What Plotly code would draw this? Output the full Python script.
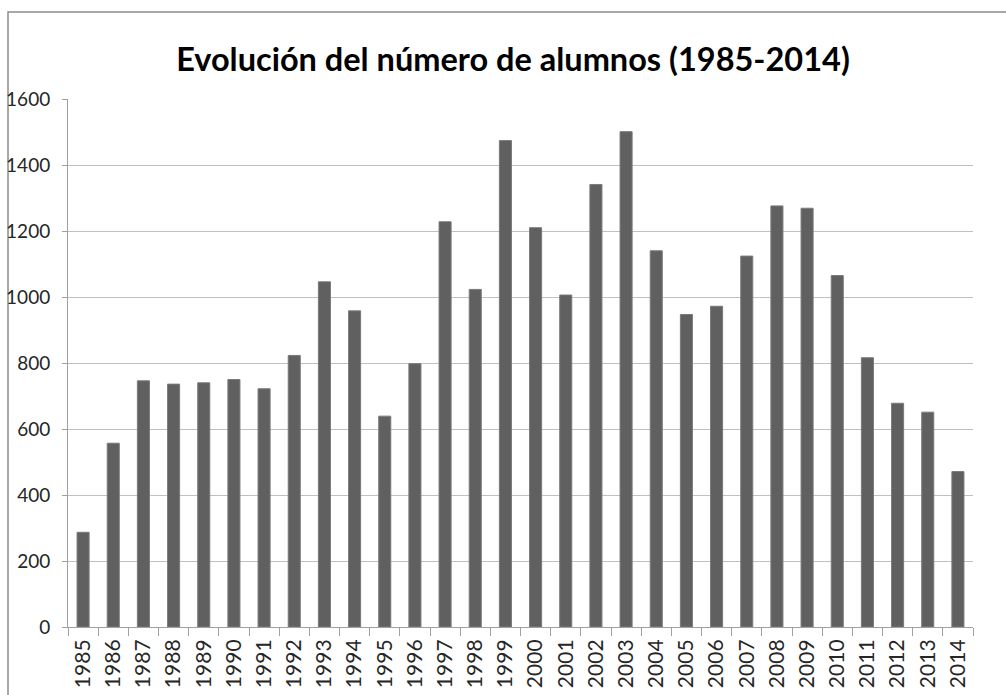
import plotly.graph_objects as go

years = [str(y) for y in range(1985, 2015)]
alumnos = [287, 557, 746, 736, 740, 750, 722, 823, 1046, 958,
           639, 798, 1228, 1023, 1474, 1210, 1006, 1341, 1501, 1140,
           947, 972, 1124, 1276, 1269, 1065, 816, 678, 651, 471]
y_ticks = [0, 200, 400, 600, 800, 1000, 1200, 1400, 1600]
title_text = "Evolución del número de alumnos (1985-2014)"

W, H = 1006, 695
L, R, T, B = 68, 33, 99, 68
pw, ph = W - L - R, H - T - B

fig = go.Figure(go.Bar(
    x=years, y=alumnos,
    marker=dict(color="#606060", line=dict(color="#7a7a7a", width=1)),
))

fig.update_layout(
    width=W, height=H,
    margin=dict(l=L, r=R, t=T, b=B, autoexpand=False),
    paper_bgcolor="white", plot_bgcolor="white",
    bargap=0.6,
    showlegend=False,
    title=dict(text=title_text, x=513 / W, xanchor="center",
               y=1 - 60 / H, yanchor="middle",
               font=dict(family="Lato", size=32.5, color="black", weight="bold")),
    font=dict(family="Lato", size=17, color="#333333"),
)
fig.update_xaxes(
    type="category", tickangle=-90, automargin=False,
    ticks="outside", tickson="boundaries", ticklen=8, tickcolor="#a0a0a0",
    showline=True, linecolor="#a0a0a0", linewidth=1,
    showgrid=False, tickfont=dict(size=21, color="#262626"),
    ticklabelstandoff=3,
)
fig.update_yaxes(
    range=[0, 1600], tickvals=y_ticks, automargin=False,
    ticks="outside", ticklen=5, tickcolor="#a0a0a0",
    showline=True, linecolor="#a0a0a0", linewidth=1,
    showgrid=True, gridcolor="#c0c0c0", gridwidth=1,
    zeroline=False, tickfont=dict(size=19, color="#262626"),
    ticklabelstandoff=8,
)
# outer chart border
fig.add_shape(type="rect", xref="paper", yref="paper",
              x0=(8 - L) / pw, x1=(W + 20 - L) / pw,
              y0=-(B + 20) / ph, y1=(ph + T - 12) / ph,
              line=dict(color="#8c8c8c", width=1.5), layer="below")

fig.write_html("out.html", config={"displayModeBar": False},
               post_script="document.body.style.margin='0';")
